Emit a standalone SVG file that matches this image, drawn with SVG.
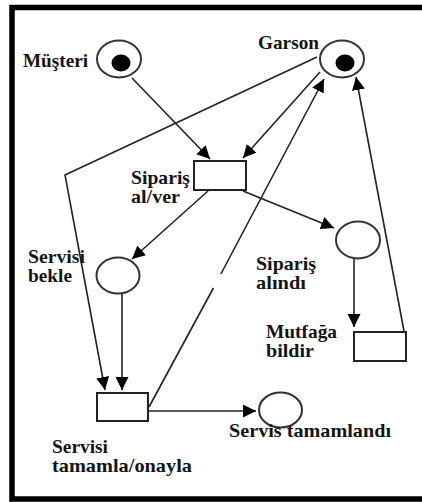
<svg xmlns="http://www.w3.org/2000/svg" width="422" height="502" viewBox="0 0 422 502">
  <style>
    .place { fill: #fff; stroke: #333; stroke-width: 2; }
    .token { fill: #000; }
    .trans { fill: #fff; stroke: #222; stroke-width: 2; }
    .lbl { font-family: "Liberation Serif", "Times New Roman", serif; font-weight: bold; font-size: 19px; fill: #141414; }
    .arc { fill: none; stroke: #222; stroke-width: 1.6; }
    .frame { fill: none; stroke: #000; stroke-width: 5.5; }
  </style>
  <defs>
    <marker id="arrow" markerUnits="userSpaceOnUse" markerWidth="14" markerHeight="14" refX="13" refY="6.5" orient="auto">
      <path d="M0,0 L13,6.5 L0,13 z" fill="#000"/>
    </marker>
  </defs>

  <rect width="422" height="502" fill="#fff"/>
  <!-- page frame (left, top and bottom edges) -->
  <rect class="frame" x="12" y="7.5" width="420" height="491.5"/>

  <g id="connectors">
    <line class="arc" x1="132" y1="78" x2="210" y2="159" marker-end="url(#arrow)"/>
    <line class="arc" x1="320" y1="72" x2="243" y2="158" marker-end="url(#arrow)"/>
    <polyline class="arc" points="317,57 65,175 105,390" marker-end="url(#arrow)"/>
    <line class="arc" x1="208" y1="191" x2="132" y2="259" marker-end="url(#arrow)"/>
    <line class="arc" x1="243" y1="191" x2="334" y2="228" marker-end="url(#arrow)"/>
    <line class="arc" x1="122" y1="294" x2="122" y2="390" marker-end="url(#arrow)"/>
    <line class="arc" x1="354" y1="259" x2="354" y2="327" marker-end="url(#arrow)"/>
    <line class="arc" x1="404" y1="331" x2="356" y2="77" marker-end="url(#arrow)"/>
    <line class="arc" x1="149" y1="407" x2="213.4" y2="288"/>
    <line class="arc" x1="220.9" y1="274" x2="324" y2="79" marker-end="url(#arrow)"/>
    <line class="arc" x1="149" y1="411" x2="256" y2="411" marker-end="url(#arrow)"/>
  </g>

  <g id="musteri">
    <ellipse class="place" cx="119" cy="59" rx="22" ry="18.5"/>
    <ellipse class="token" cx="121" cy="63" rx="9.5" ry="8.5"/>
    <text class="lbl" x="23" y="67" textLength="65" lengthAdjust="spacingAndGlyphs">Müşteri</text>
  </g>

  <g id="garson">
    <ellipse class="place" cx="342" cy="59" rx="22" ry="18.5"/>
    <ellipse class="token" cx="345" cy="63" rx="9.5" ry="8.5"/>
    <text class="lbl" x="258" y="49" textLength="61" lengthAdjust="spacingAndGlyphs">Garson</text>
  </g>

  <g id="siparis-al-ver">
    <rect class="trans" x="194" y="161" width="52" height="29"/>
    <text class="lbl" x="131" y="184" textLength="59" lengthAdjust="spacingAndGlyphs">Sipariş</text>
    <text class="lbl" x="131" y="203" textLength="49" lengthAdjust="spacingAndGlyphs">al/ver</text>
  </g>

  <g id="servisi-bekle">
    <ellipse class="place" cx="118" cy="275.5" rx="21.5" ry="18"/>
    <text class="lbl" x="28" y="263" textLength="57" lengthAdjust="spacingAndGlyphs">Servisi</text>
    <text class="lbl" x="28" y="282" textLength="44" lengthAdjust="spacingAndGlyphs">bekle</text>
  </g>

  <g id="siparis-alindi">
    <ellipse class="place" cx="358" cy="240" rx="22" ry="18.5"/>
    <text class="lbl" x="256" y="270" textLength="60" lengthAdjust="spacingAndGlyphs">Sipariş</text>
    <text class="lbl" x="256" y="289" textLength="50" lengthAdjust="spacingAndGlyphs">alındı</text>
  </g>

  <g id="mutfaga-bildir">
    <rect class="trans" x="354" y="332" width="52" height="29"/>
    <text class="lbl" x="266" y="338" textLength="71" lengthAdjust="spacingAndGlyphs">Mutfağa</text>
    <text class="lbl" x="266" y="357" textLength="48" lengthAdjust="spacingAndGlyphs">bildir</text>
  </g>

  <g id="servisi-tamamla">
    <rect class="trans" x="97" y="393" width="51" height="28"/>
    <text class="lbl" x="52" y="453" textLength="56" lengthAdjust="spacingAndGlyphs">Servisi</text>
    <text class="lbl" x="52" y="472" textLength="140" lengthAdjust="spacingAndGlyphs">tamamla/onayla</text>
  </g>

  <g id="servis-tamamlandi">
    <ellipse class="place" cx="280.5" cy="410" rx="21.5" ry="17.5"/>
    <text class="lbl" x="229" y="437" textLength="162" lengthAdjust="spacingAndGlyphs">Servis tamamlandı</text>
  </g>
</svg>
